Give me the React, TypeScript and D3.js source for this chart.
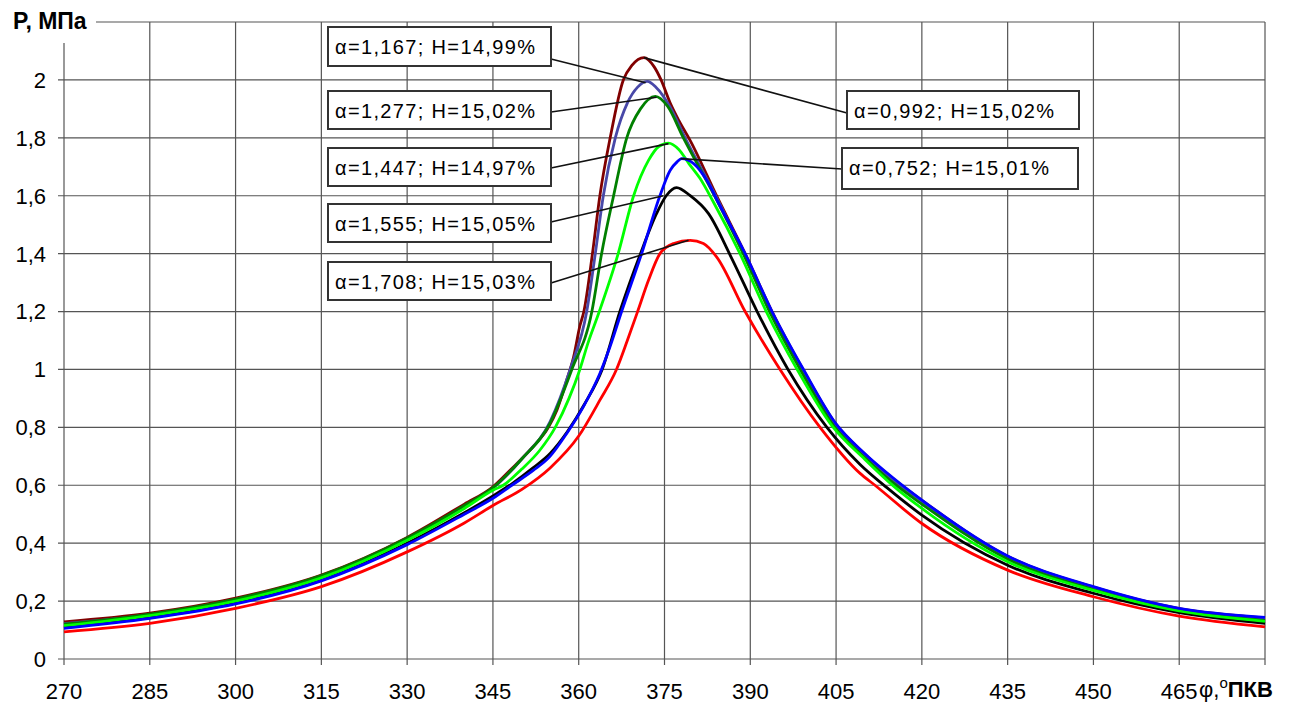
import React from "react";
import * as d3 from "d3";

type Pt = [number, number];

// φ (°ПКВ) and P (МПа)
const sDarkRed: Pt[] = [[270,.128],[285,.158],[300,.21],[315,.29],[330,.42],[340,.535],[345,.595],[348,.652],[352,.733],[354.7,.8],[356.2,.86],[357.9,.963],[359.1,1.043],[360.2,1.15],[360.9,1.2],[362.4,1.4],[363.7,1.6],[365.5,1.8],[367.8,2.0],[369.3,2.05],[371.4,2.077],[373.2,2.045],[374.4,2.0],[376,1.92],[377.5,1.86],[379.5,1.79],[384.1,1.6],[389.1,1.4],[393.8,1.2],[399.2,1.0],[405,.81],[410,.708],[415,.622],[420,.548],[435,.355],[450,.248],[465,.174],[480,.142]];
const sSlate: Pt[] = [[270,.122],[285,.153],[300,.205],[315,.285],[330,.415],[340,.528],[345,.59],[350,.69],[355,.82],[358.5,1.0],[361.4,1.2],[362.9,1.4],[364.3,1.6],[366.4,1.8],[368.5,1.92],[370.3,1.975],[372,1.995],[373.5,1.975],[376,1.906],[378.6,1.8],[384.2,1.59],[389.1,1.39],[393.8,1.19],[399.2,.995],[405,.805],[410,.703],[415,.618],[420,.545],[435,.352],[450,.245],[465,.172],[480,.14]];
const sDkGreen: Pt[] = [[270,.12],[285,.155],[300,.207],[315,.288],[330,.418],[340,.53],[345,.592],[350,.69],[355,.815],[358.8,1.0],[362.3,1.2],[364,1.4],[366.1,1.6],[368.4,1.8],[370.8,1.9],[373.4,1.943],[375.5,1.91],[378.3,1.8],[384,1.59],[389,1.39],[393.6,1.19],[399,.99],[404.8,.8],[410,.696],[415,.608],[420,.535],[435,.345],[450,.24],[465,.168],[480,.133]];
const sLime: Pt[] = [[270,.115],[285,.15],[300,.2],[315,.28],[330,.41],[340,.52],[345,.583],[346.8,.6],[350,.655],[353.2,.721],[355.9,.8],[358.3,.9],[360.2,1.0],[361.6,1.09],[363.6,1.2],[366.9,1.4],[369.6,1.6],[372.2,1.722],[374,1.77],[375.7,1.782],[377.5,1.76],[379.3,1.71],[381.2,1.66],[383.5,1.58],[388.2,1.4],[392.8,1.2],[398.2,1.0],[404.3,.805],[410,.69],[415,.598],[420,.52],[435,.336],[450,.237],[465,.166],[480,.13]];
const sBlue: Pt[] = [[270,.106],[285,.14],[300,.19],[315,.27],[330,.395],[340,.5],[345,.555],[348.3,.6],[352.1,.652],[354.9,.698],[357.9,.779],[360.8,.871],[363.7,.986],[365.5,1.08],[367.5,1.2],[371,1.4],[374.2,1.6],[376,1.688],[377.2,1.717],[378,1.728],[380.1,1.711],[382.4,1.653],[384.3,1.58],[389.1,1.4],[393.8,1.2],[399.3,1.0],[405,.812],[410,.71],[415,.625],[420,.549],[435,.356],[450,.25],[465,.175],[480,.144]];
const sBlack: Pt[] = [[270,.11],[285,.143],[300,.193],[315,.272],[330,.4],[340,.505],[345,.563],[348.3,.605],[352,.66],[355,.71],[358,.785],[361,.88],[364.1,1.0],[367.2,1.2],[370.8,1.4],[373.6,1.538],[375.3,1.6],[377.1,1.628],[379.5,1.6],[382.7,1.538],[386.6,1.39],[391.2,1.2],[396.6,1.0],[403.4,.8],[409.2,.672],[414,.59],[420,.497],[435,.324],[450,.227],[465,.16],[480,.123]];
const sRed: Pt[] = [[270,.094],[285,.123],[300,.175],[315,.25],[330,.37],[340,.47],[345,.53],[350,.585],[355,.66],[360,.77],[363.7,.894],[366.6,1.0],[368.5,1.1],[370.3,1.2],[372.2,1.308],[374.2,1.4],[376.6,1.435],[379.5,1.446],[381.8,1.435],[384.1,1.389],[389.1,1.2],[395.2,1.0],[402.2,.8],[409.2,.641],[411.8,.6],[420,.468],[435,.307],[450,.215],[465,.148],[480,.111]];

const xTickValues = [270, 285, 300, 315, 330, 345, 360, 375, 390, 405, 420, 435, 450, 465, 480];
const xTickLabels = ["270", "285", "300", "315", "330", "345", "360", "375", "390", "405", "420", "435", "450", "465", ""];
const yTickValues = [0, 0.2, 0.4, 0.6, 0.8, 1, 1.2, 1.4, 1.6, 1.8, 2, 2.2];
const yTickLabels = ["0", "0,2", "0,4", "0,6", "0,8", "1", "1,2", "1,4", "1,6", "1,8", "2", ""];

// draw order (last on top)
const seriesOrder = [
  { data: sRed, color: "#ff0000" },
  { data: sBlack, color: "#000000" },
  { data: sDarkRed, color: "#800000" },
  { data: sSlate, color: "#4848a8" },
  { data: sDkGreen, color: "#008000" },
  { data: sLime, color: "#00ff00" },
  { data: sBlue, color: "#0000ff" },
];

const labelTexts = ["α=1,167; H=14,99%", "α=1,277; H=15,02%", "α=1,447; H=14,97%", "α=1,555; H=15,05%", "α=1,708; H=15,03%", "α=0,992; H=15,02%", "α=0,752; H=15,01%"];
// leader targets in data units (φ, P)
const labelTargets: Pt[] = [[371.7, 1.99], [373.6, 1.94], [375.7, 1.78], [374.8, 1.6], [379.2, 1.446], [371.4, 2.077], [377.8, 1.728]];
// box layout in pixels
const labelBoxes = [
  { x: 328, y: 27, w: 223, h: 39, side: "L", ly: 59 },
  { x: 328, y: 91, w: 223, h: 38, side: "L", ly: 112 },
  { x: 328, y: 148, w: 223, h: 38, side: "L", ly: 168 },
  { x: 328, y: 204, w: 223, h: 38, side: "L", ly: 222 },
  { x: 328, y: 262, w: 223, h: 38, side: "L", ly: 283 },
  { x: 847, y: 91, w: 232, h: 38, side: "R", ly: 113 },
  { x: 842, y: 148, w: 236, h: 41, side: "R", ly: 169 },
];

const FONT = "'Liberation Sans', Arial, sans-serif";

export default function App() {
  const W = 1300, H = 706;
  const x = d3.scaleLinear().domain([270, 480]).range([64, 1265]);
  const y = d3.scaleLinear().domain([0, 2.2]).range([659, 22]);
  const line = d3.line<Pt>().x(d => x(d[0])).y(d => y(d[1])).curve(d3.curveMonotoneX);
  const gridColor = "#555";

  return (
    <svg width={W} height={H} style={{ position: "absolute", left: 0, top: 0, display: "block", background: "#fff" }} fontFamily={FONT}>
      <rect x={0} y={0} width={W} height={H} fill="#fff" />
      {xTickValues.map((v, i) => (
        <line key={"vx" + i} x1={x(v)} x2={x(v)} y1={y(2.2)} y2={y(0) + 6} stroke={gridColor} strokeWidth={1.2} />
      ))}
      {yTickValues.map((v, i) => (
        <line key={"hy" + i} x1={x(270) - 6} x2={x(480)} y1={y(v)} y2={y(v)} stroke={gridColor} strokeWidth={1.2} />
      ))}
      {xTickValues.map((v, i) => (
        <text key={"xl" + i} x={x(v)} y={699} textAnchor="middle" fontSize={22} fill="#000">{xTickLabels[i]}</text>
      ))}
      {yTickValues.map((v, i) => (
        <text key={"yl" + i} x={46} y={y(v)} dy="0.36em" textAnchor="end" fontSize={22} fill="#000">{yTickLabels[i]}</text>
      ))}
      {seriesOrder.map((s, i) => (
        <path key={"s" + i} d={line(s.data) || ""} fill="none" stroke={s.color} strokeWidth={2.8} strokeLinejoin="round" />
      ))}
      {labelBoxes.map((b, i) => {
        const tx = x(labelTargets[i][0]);
        const ty = y(labelTargets[i][1]);
        const sx = b.side === "L" ? b.x + b.w : b.x;
        return <line key={"ld" + i} x1={sx} y1={b.ly} x2={tx} y2={ty} stroke="#111" strokeWidth={1.6} />;
      })}
      {labelBoxes.map((b, i) => (
        <g key={"lb" + i}>
          <rect x={b.x} y={b.y} width={b.w} height={b.h} fill="#fff" stroke="#333" strokeWidth={2} />
          <text x={b.x + 7} y={b.y + 27} fontSize={20} fill="#000" textLength={200} lengthAdjust="spacing">{labelTexts[i]}</text>
        </g>
      ))}
      <rect x={0} y={0} width={96} height={43} fill="#fff" />
      <text x={13} y={29} fontSize={23} fontWeight="bold" fill="#000">P, МПа</text>
      <text x={1199} y={697} fontSize={22} fill="#000">
        <tspan>φ,</tspan>
        <tspan dy={-9} fontSize={15}>o</tspan>
        <tspan dy={9} fontWeight="bold">ПКВ</tspan>
      </text>
    </svg>
  );
}
